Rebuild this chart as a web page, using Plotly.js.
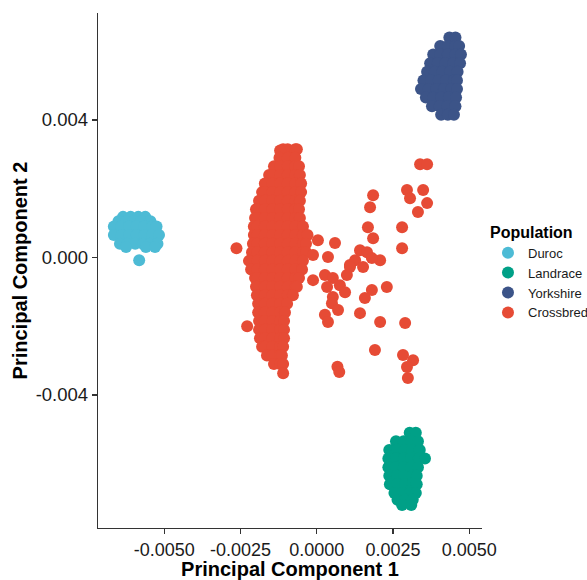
<!DOCTYPE html>
<html>
<head>
<meta charset="utf-8">
<script src="https://cdn.plot.ly/plotly-3.0.1.min.js"></script>
<style>html,body{margin:0;padding:0;background:#fff;}#chart{width:587px;height:580px;}</style>
</head>
<body>
<div id="chart"></div>
<script>
// Population names and colours
const populations = ["Duroc", "Landrace", "Yorkshire", "Crossbred"];
const colors = ["#4DBBD5", "#00A087", "#3C5488", "#E64B35"];

// Tick values / labels
const xTickVals = [-0.005, -0.0025, 0, 0.0025, 0.005];
const xTickText = ["-0.0050", "-0.0025", "0.0000", "0.0025", "0.0050"];
const yTickVals = [-0.004, 0, 0.004];
const yTickText = ["-0.004", "0.000", "0.004"];

// Points, grouped by rows: [PC2, [PC1 values...]]
const durocRows = [
  [1.18e-3, [-6.35e-3, -6.10e-3, -5.85e-3, -5.62e-3]],
  [1.05e-3, [-6.50e-3, -6.25e-3, -6.00e-3, -5.75e-3, -5.45e-3]],
  [0.90e-3, [-6.65e-3, -6.40e-3, -6.15e-3, -5.90e-3, -5.65e-3, -5.40e-3, -5.25e-3]],
  [0.65e-3, [-6.65e-3, -6.40e-3, -6.15e-3, -5.90e-3, -5.65e-3, -5.40e-3, -5.17e-3]],
  [0.40e-3, [-6.45e-3, -6.20e-3, -5.95e-3, -5.70e-3, -5.45e-3, -5.22e-3]],
  [0.30e-3, [-6.25e-3, -5.60e-3, -5.30e-3]],
  [-0.08e-3, [-5.82e-3]]
];

const landraceRows = [
  [-5.10e-3, [3.05e-3, 3.25e-3]],
  [-5.35e-3, [2.60e-3, 2.85e-3, 3.10e-3, 3.32e-3]],
  [-5.60e-3, [2.38e-3, 2.63e-3, 2.88e-3, 3.13e-3, 3.38e-3]],
  [-5.85e-3, [2.35e-3, 2.60e-3, 2.85e-3, 3.10e-3, 3.35e-3, 3.55e-3]],
  [-6.10e-3, [2.35e-3, 2.60e-3, 2.85e-3, 3.10e-3, 3.32e-3]],
  [-6.35e-3, [2.38e-3, 2.63e-3, 2.88e-3, 3.13e-3, 3.28e-3]],
  [-6.60e-3, [2.40e-3, 2.65e-3, 2.90e-3, 3.15e-3, 3.28e-3]],
  [-6.85e-3, [2.55e-3, 2.80e-3, 3.05e-3, 3.25e-3]],
  [-7.05e-3, [2.65e-3, 2.90e-3, 3.15e-3]],
  [-7.20e-3, [2.80e-3, 3.10e-3]]
];

const yorkshireRows = [
  [6.40e-3, [4.35e-3, 4.55e-3]],
  [6.15e-3, [4.05e-3, 4.30e-3, 4.55e-3, 4.67e-3]],
  [5.90e-3, [3.82e-3, 4.05e-3, 4.30e-3, 4.55e-3, 4.73e-3]],
  [5.65e-3, [3.72e-3, 3.97e-3, 4.22e-3, 4.47e-3, 4.70e-3]],
  [5.40e-3, [3.62e-3, 3.87e-3, 4.12e-3, 4.37e-3, 4.62e-3]],
  [5.15e-3, [3.50e-3, 3.75e-3, 4.00e-3, 4.25e-3, 4.50e-3, 4.60e-3]],
  [4.90e-3, [3.42e-3, 3.67e-3, 3.92e-3, 4.17e-3, 4.42e-3, 4.60e-3]],
  [4.65e-3, [3.58e-3, 3.83e-3, 4.08e-3, 4.33e-3, 4.57e-3]],
  [4.40e-3, [3.78e-3, 4.03e-3, 4.28e-3, 4.55e-3]],
  [4.15e-3, [4.08e-3, 4.30e-3, 4.50e-3]]
];

const crossbredRows = [
  [3.15e-3, [-1.10e-3, -0.95e-3, -0.70e-3, -0.65e-3]],
  [3.11e-3, [-1.20e-3]],
  [2.90e-3, [-1.22e-3, -0.95e-3, -0.70e-3]],
  [2.65e-3, [-1.40e-3, -1.20e-3, -0.95e-3, -0.70e-3, -0.58e-3]],
  [2.40e-3, [-1.56e-3, -1.45e-3, -1.20e-3, -0.95e-3, -0.70e-3, -0.55e-3]],
  [2.15e-3, [-1.70e-3, -1.45e-3, -1.20e-3, -0.95e-3, -0.70e-3, -0.51e-3]],
  [1.90e-3, [-1.79e-3, -1.70e-3, -1.45e-3, -1.20e-3, -0.95e-3, -0.70e-3, -0.51e-3]],
  [1.65e-3, [-1.89e-3, -1.70e-3, -1.45e-3, -1.20e-3, -0.95e-3, -0.70e-3, -0.55e-3]],
  [1.40e-3, [-1.99e-3, -1.95e-3, -1.70e-3, -1.45e-3, -1.20e-3, -0.95e-3, -0.70e-3, -0.58e-3]],
  [1.15e-3, [-2.02e-3, -1.95e-3, -1.70e-3, -1.45e-3, -1.20e-3, -0.95e-3, -0.70e-3, -0.55e-3]],
  [0.90e-3, [-2.06e-3, -1.95e-3, -1.70e-3, -1.45e-3, -1.20e-3, -0.95e-3, -0.70e-3, -0.45e-3]],
  [0.65e-3, [-2.06e-3, -1.95e-3, -1.70e-3, -1.45e-3, -1.20e-3, -0.95e-3, -0.70e-3, -0.45e-3, -0.30e-3]],
  [0.40e-3, [-2.09e-3, -1.95e-3, -1.70e-3, -1.45e-3, -1.20e-3, -0.95e-3, -0.70e-3, -0.45e-3, -0.35e-3]],
  [0.27e-3, [-2.63e-3]],
  [0.15e-3, [-2.12e-3, -1.95e-3, -1.70e-3, -1.45e-3, -1.20e-3, -0.95e-3, -0.70e-3, -0.45e-3, -0.35e-3]],
  [-0.10e-3, [-2.22e-3, -1.95e-3, -1.70e-3, -1.45e-3, -1.20e-3, -0.95e-3, -0.70e-3, -0.45e-3]],
  [-0.35e-3, [-2.15e-3, -1.95e-3, -1.70e-3, -1.45e-3, -1.20e-3, -0.95e-3, -0.70e-3, -0.48e-3]],
  [-0.60e-3, [-2.02e-3, -1.95e-3, -1.70e-3, -1.45e-3, -1.20e-3, -0.95e-3, -0.70e-3, -0.58e-3]],
  [-0.85e-3, [-1.99e-3, -1.95e-3, -1.70e-3, -1.45e-3, -1.20e-3, -0.95e-3, -0.70e-3, -0.65e-3]],
  [-1.10e-3, [-1.96e-3, -1.70e-3, -1.45e-3, -1.20e-3, -0.95e-3, -0.78e-3]],
  [-1.35e-3, [-1.92e-3, -1.70e-3, -1.45e-3, -1.20e-3, -0.97e-3]],
  [-1.60e-3, [-1.92e-3, -1.70e-3, -1.45e-3, -1.20e-3, -1.04e-3]],
  [-1.85e-3, [-1.89e-3, -1.70e-3, -1.45e-3, -1.20e-3, -1.07e-3]],
  [-2.00e-3, [-2.28e-3]],
  [-2.10e-3, [-1.89e-3, -1.70e-3, -1.45e-3, -1.20e-3, -1.07e-3]],
  [-2.35e-3, [-1.86e-3, -1.70e-3, -1.45e-3, -1.20e-3, -1.07e-3]],
  [-2.60e-3, [-1.79e-3, -1.70e-3, -1.45e-3, -1.20e-3, -1.10e-3]],
  [-2.85e-3, [-1.63e-3, -1.45e-3, -1.20e-3, -1.14e-3]],
  [-3.10e-3, [-1.40e-3, -1.20e-3, -1.10e-3]],
  [-3.37e-3, [-1.10e-3]]
];

// Scattered crossbred individuals: [PC1, PC2]
const crossbredScatter = [
  [3.39e-3, 2.71e-3], [3.62e-3, 2.71e-3],
  [2.96e-3, 1.96e-3], [3.49e-3, 1.96e-3], [3.06e-3, 1.72e-3], [3.62e-3, 1.58e-3], [3.32e-3, 1.32e-3],
  [1.85e-3, 1.81e-3], [1.75e-3, 1.46e-3],
  [1.68e-3, 0.88e-3], [2.80e-3, 0.88e-3],
  [1.85e-3, 0.56e-3], [2.80e-3, 0.27e-3],
  [0.04e-3, 0.50e-3], [0.60e-3, 0.42e-3], [-0.12e-3, 0.07e-3], [0.37e-3, 0.01e-3],
  [1.09e-3, -0.22e-3], [1.42e-3, 0.21e-3], [1.65e-3, 0.15e-3], [1.26e-3, -0.08e-3], [2.08e-3, -0.08e-3], [1.81e-3, -0.02e-3],
  [-0.12e-3, -0.66e-3], [0.27e-3, -0.51e-3], [0.53e-3, -0.60e-3], [1.09e-3, -0.28e-3], [0.99e-3, -0.51e-3],
  [0.34e-3, -0.86e-3], [0.76e-3, -0.81e-3], [0.93e-3, -1.01e-3], [0.53e-3, -1.15e-3], [0.50e-3, -1.33e-3],
  [0.70e-3, -1.53e-3], [0.27e-3, -1.67e-3], [0.37e-3, -1.88e-3],
  [1.52e-3, -0.28e-3], [1.81e-3, -0.95e-3], [2.30e-3, -0.86e-3], [1.58e-3, -1.18e-3], [1.42e-3, -1.62e-3],
  [2.08e-3, -1.88e-3], [2.90e-3, -1.91e-3], [1.91e-3, -2.69e-3],
  [0.68e-3, -3.18e-3], [0.74e-3, -3.33e-3],
  [2.83e-3, -2.84e-3], [3.16e-3, -2.99e-3], [2.96e-3, -3.19e-3], [2.99e-3, -3.51e-3]
];

function rowsToXY(rows) {
  const x = [], y = [];
  rows.forEach(([yy, xs]) => xs.forEach(xx => { x.push(xx); y.push(yy); }));
  return {x, y};
}

const duroc = rowsToXY(durocRows);
const landrace = rowsToXY(landraceRows);
const yorkshire = rowsToXY(yorkshireRows);
const crossbred = rowsToXY(crossbredRows);
crossbredScatter.forEach(([xx, yy]) => { crossbred.x.push(xx); crossbred.y.push(yy); });

const sets = [duroc, landrace, yorkshire, crossbred];
const FONT = "Liberation Sans, Arial, sans-serif";

const traces = sets.map((s, i) => ({
  type: "scatter",
  mode: "markers",
  name: populations[i],
  x: s.x,
  y: s.y,
  marker: {color: colors[i], size: 12, line: {width: 0}},
  hoverinfo: "skip"
}));

const layout = {
  width: 587,
  height: 580,
  margin: {l: 98, r: 105, t: 13, b: 52, pad: 0, autoexpand: false},
  paper_bgcolor: "#ffffff",
  plot_bgcolor: "#ffffff",
  font: {family: FONT, color: "#1a1a1a"},
  showlegend: true,
  xaxis: {
    range: [-7.17e-3, 5.42e-3],
    showgrid: false, zeroline: false,
    showline: true, linecolor: "#333333", linewidth: 1.2,
    ticks: "outside", ticklen: 5, tickcolor: "#333333", tickwidth: 1.2,
    tickvals: xTickVals, ticktext: xTickText,
    tickfont: {family: FONT, size: 18, color: "#1a1a1a"},
    title: {text: "<b>Principal Component 1</b>", font: {family: FONT, size: 20, color: "#000"}, standoff: 6}
  },
  yaxis: {
    range: [-7.87e-3, 7.11e-3],
    showgrid: false, zeroline: false,
    showline: true, linecolor: "#333333", linewidth: 1.2,
    ticks: "outside", ticklen: 5, tickcolor: "#333333", tickwidth: 1.2,
    tickvals: yTickVals, ticktext: yTickText,
    tickfont: {family: FONT, size: 18.5, color: "#1a1a1a"},
    title: {text: "<b>Principal Component 2</b>", font: {family: FONT, size: 20, color: "#000"}, standoff: 2}
  },
  legend: {
    x: 1.0156, xanchor: "left",
    y: 0.604, yanchor: "top",
    bgcolor: "rgba(0,0,0,0)",
    font: {family: FONT, size: 13, color: "#1a1a1a"},
    title: {text: "<b>Population</b>", font: {family: FONT, size: 16, color: "#000"}},
    traceorder: "normal",
    itemclick: false, itemdoubleclick: false
  }
};

Plotly.newPlot("chart", traces, layout, {displayModeBar: false, staticPlot: true});
</script>
</body>
</html>
